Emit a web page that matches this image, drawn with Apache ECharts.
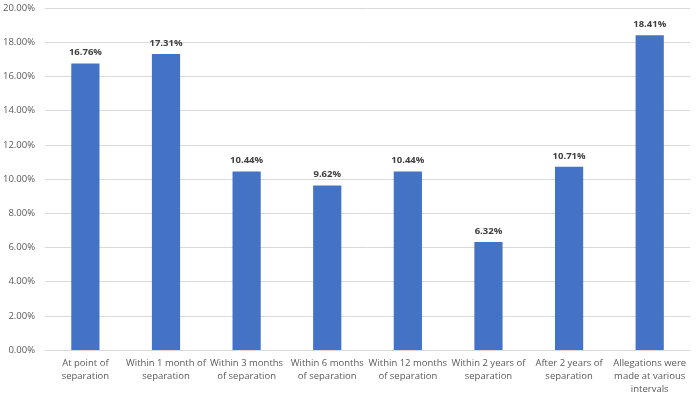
<!DOCTYPE html>
<html>
<head>
<meta charset="utf-8">
<script src="https://cdn.jsdelivr.net/npm/echarts@6/dist/echarts.min.js"></script>
<style>
html, body { margin: 0; padding: 0; background: #fff; }
#mainChart { width: 696px; height: 396px; }
</style>
</head>
<body>
<div id="mainChart"></div>
<script>
var categories = [
    'At point of\nseparation',
    'Within 1 month of\nseparation',
    'Within 3 months\nof separation',
    'Within 6 months\nof separation',
    'Within 12 months\nof separation',
    'Within 2 years of\nseparation',
    'After 2 years of\nseparation',
    'Allegations were\nmade at various\nintervals'
];
var values = [16.76, 17.31, 10.44, 9.62, 10.44, 6.32, 10.71, 18.41];

var myChart = echarts.init(document.getElementById('mainChart'));
myChart.setOption({
    animation: false,
    textStyle: {fontFamily: 'Open Sans'},
    grid: {left: 45, right: 6, top: 8, bottom: 45, containLabel: false},
    xAxis: {
        type: 'category',
        data: categories,
        axisTick: {show: false},
        axisLine: {lineStyle: {color: '#d9d9d9'}},
        axisLabel: {
            interval: 0,
            color: '#595959',
            fontSize: 9.5,
            lineHeight: 13,
            margin: 7
        }
    },
    yAxis: {
        type: 'value',
        min: 0,
        max: 20,
        interval: 2,
        axisLine: {show: false},
        axisTick: {show: false},
        splitLine: {lineStyle: {color: '#d9d9d9'}},
        axisLabel: {
            color: '#595959',
            fontSize: 9.5,
            margin: 10,
            formatter: function (v) { return v.toFixed(2) + '%'; }
        }
    },
    series: [{
        type: 'bar',
        data: values,
        barWidth: '35%',
        itemStyle: {color: '#4472C4'},
        label: {
            show: true,
            position: 'top',
            distance: 6,
            color: '#404040',
            fontSize: 9.5,
            fontWeight: 'bold',
            formatter: function (p) { return p.value.toFixed(2) + '%'; }
        }
    }]
});
</script>
</body>
</html>
